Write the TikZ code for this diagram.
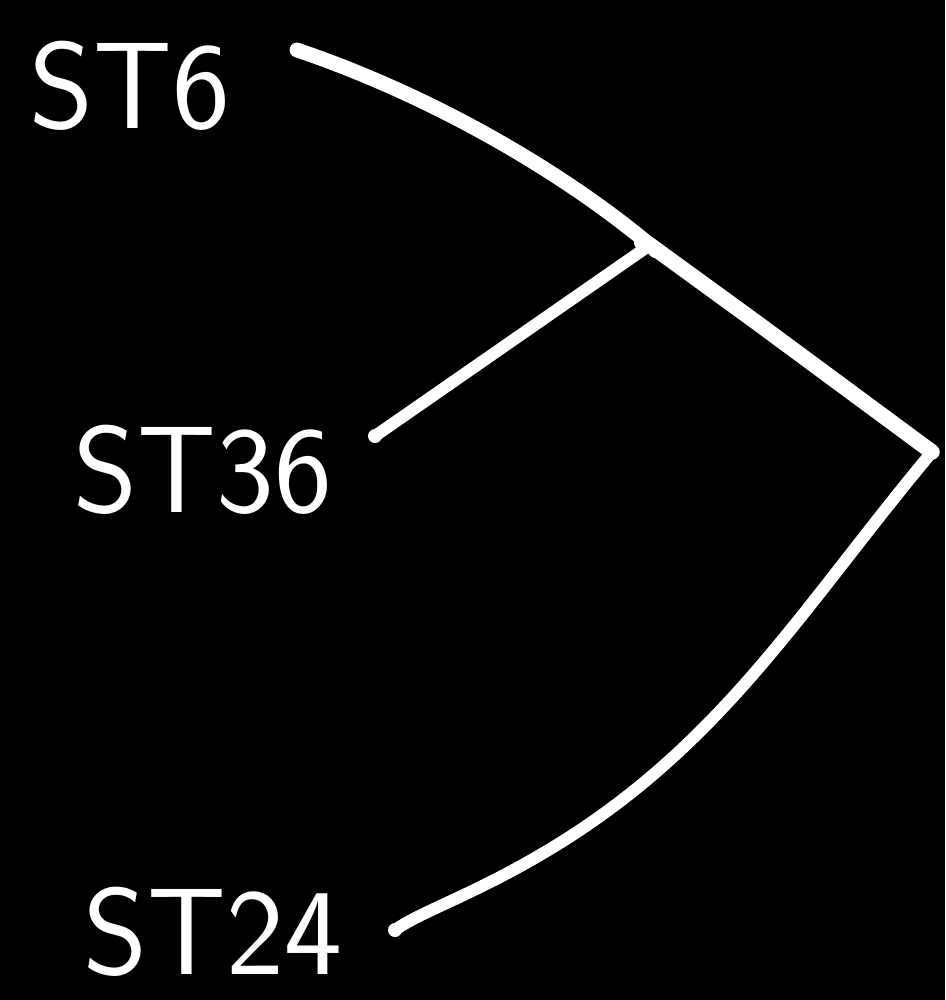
\documentclass[tikz,border=0pt]{standalone}
\usepackage{fontspec}
\begin{document}
\begin{tikzpicture}[x=0.01cm,y=-0.01cm,
  lbl/.style={text=white,font=\sffamily\fontsize{35}{40}\selectfont,inner sep=0pt},
  stroke/.style={draw=white,line width=3.4pt,line cap=round,line join=round}]
\fill[black] (0,0) rectangle (945,1000);
\useasboundingbox (0,0) rectangle (945,1000);
\node[lbl] (st6) at (130,86) {ST6};
\node[lbl] (st36) at (203,470) {ST36};
\node[lbl] (st24) at (213,932) {ST24};
\coordinate (a6) at (297,50);
\coordinate (a36) at (375,436);
\coordinate (a24) at (395,930);
\coordinate (j) at (650,245);
\coordinate (r) at (932,452);
\draw[stroke,line width=4.2pt] (a6) .. controls (430,95) and (560,170) .. (j);
\draw[stroke,line width=4.4pt] (j) -- (760,325) -- (r);
\draw[stroke] (a36) -- (j);
\draw[stroke] (640,243) -- (j) -- (655,252);
\draw[stroke] (r) .. controls (800,610) and (720,750) .. (540,855) .. controls (470,896) and (420,912) .. (a24);
\fill[white] (a6) circle (7) (a36) circle (7) (a24) circle (7);
\end{tikzpicture}
\end{document}
